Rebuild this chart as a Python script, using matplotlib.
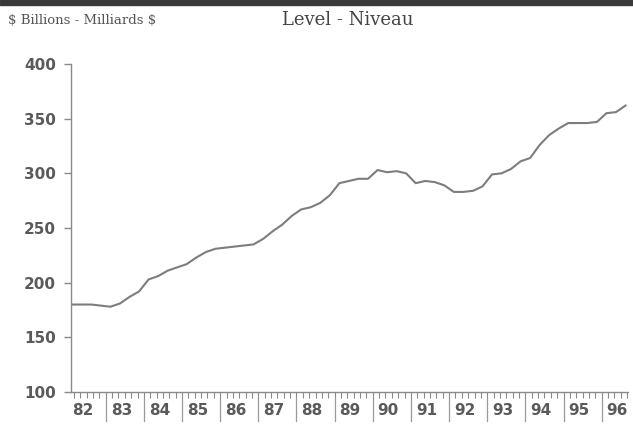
import numpy as np
import matplotlib
matplotlib.use("Agg")
import matplotlib.pyplot as plt
from matplotlib.transforms import blended_transform_factory
from matplotlib.patches import Rectangle

# Quarterly data 1982Q1 - 1996Q3 ($ billions)
start_year = 1982
values = [180, 180, 180, 179, 178, 181, 187, 192, 203, 206, 211, 214,
          217, 223, 228, 231, 232, 233, 234, 235, 240, 247, 253, 261,
          267, 269, 273, 280, 291, 293, 295, 295, 303, 301, 302, 300,
          291, 293, 292, 289, 283, 283, 284, 288, 299, 300, 304, 311,
          314, 326, 335, 341, 346, 346, 346, 347, 355, 356, 362]
year_labels = ["82", "83", "84", "85", "86", "87", "88", "89", "90", "91",
               "92", "93", "94", "95", "96"]
y_ticks = [100, 150, 200, 250, 300, 350, 400]

x = start_year + 0.125 + 0.25 * np.arange(len(values))

fig = plt.figure(figsize=(6.33, 4.28), dpi=100)
ax = fig.add_axes([71 / 633, 1 - 392 / 428, (628 - 71) / 633, (392 - 64) / 428])

gray = "#5a5a5a"
line_gray = "#7d7d7d"

ax.plot(x, values, color=line_gray, lw=1.5, solid_joinstyle="round")

ax.set_xlim(1982.09, 1996.69)
ax.set_ylim(100, 400)

for s in ["top", "right"]:
    ax.spines[s].set_visible(False)
for s in ["left", "bottom"]:
    ax.spines[s].set_color("#8a8a8a")
    ax.spines[s].set_linewidth(1.0)

ax.set_yticks(y_ticks)
ax.set_yticklabels([str(v) for v in y_ticks], fontfamily="DejaVu Sans",
                   fontweight="bold", fontsize=11, color=gray)
ax.tick_params(axis="y", direction="out", length=5, width=1, color="#8a8a8a", pad=6)

minor = np.arange(1982 + 1 / 6, 1996.7, 1 / 6)
ax.set_xticks([])
ax.set_xticks(minor, minor=True)
ax.tick_params(axis="x", which="minor", direction="out", length=4, width=0.8,
               color="#8a8a8a")

trans = blended_transform_factory(ax.transData, ax.transAxes)
years = np.arange(start_year, start_year + len(year_labels))
for yr, lab in zip(years, year_labels):
    if yr > start_year:
        ax.plot([yr, yr], [-0.018, -0.088], transform=trans, color="#9a9a9a",
                lw=0.9, clip_on=False)
    ax.text(yr + 0.13, -0.055, lab, transform=trans, ha="left", va="center",
            fontfamily="DejaVu Sans", fontweight="bold", fontsize=11,
            color=gray)

fig.text(8 / 633, 1 - 21 / 428, "\\$ Billions - Milliards \\$",
         fontfamily="DejaVu Serif", fontsize=9.5, color="#555555",
         ha="left", va="center")
fig.text(348 / 633, 1 - 20 / 428, "Level - Niveau",
         fontfamily="DejaVu Serif", fontsize=13, color="#444444",
         ha="center", va="center")

# dark scan band at the top
fig.patches.append(Rectangle((0, 1 - 5 / 428), 1, 5 / 428, transform=fig.transFigure,
                             color="#3a3a3a", zorder=0))

fig.savefig("out.png", dpi=100)
